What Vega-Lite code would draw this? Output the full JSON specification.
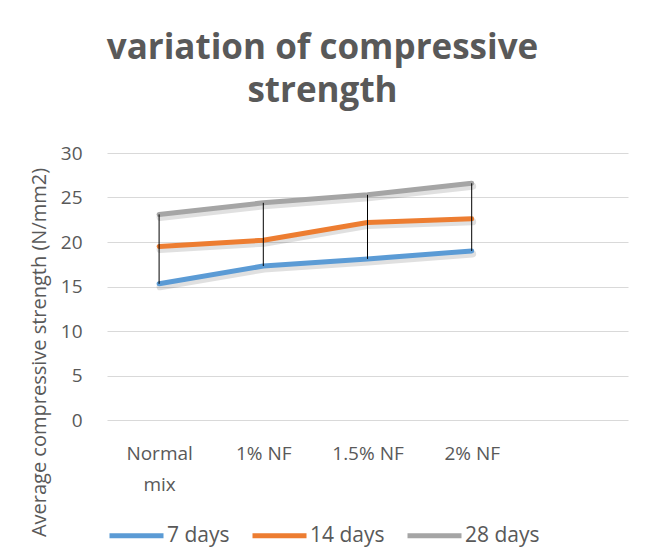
{
  "$schema": "https://vega.github.io/schema/vega-lite/v6.json",
  "width": 521,
  "height": 267,
  "autosize": {"type": "none"},
  "padding": {"left": 107, "top": 153, "right": 20, "bottom": 136},
  "background": "white",
  "config": {"view": {"stroke": null}, "font": "Open Sans"},
  "title": {
    "text": ["variation of compressive", "strength"],
    "fontSize": 35,
    "fontWeight": "bold",
    "color": "#595959",
    "font": "Open Sans",
    "anchor": "middle",
    "frame": "group",
    "dx": -45,
    "lineHeight": 43,
    "offset": 35
  },
  "data": {
    "values": [
      {"mix": "Normal mix", "days": "7 days", "value": 15.3},
      {"mix": "1%  NF", "days": "7 days", "value": 17.3},
      {"mix": "1.5%  NF", "days": "7 days", "value": 18.1},
      {"mix": "2%  NF", "days": "7 days", "value": 19.0},
      {"mix": "Normal mix", "days": "14 days", "value": 19.5},
      {"mix": "1%  NF", "days": "14 days", "value": 20.2},
      {"mix": "1.5%  NF", "days": "14 days", "value": 22.2},
      {"mix": "2%  NF", "days": "14 days", "value": 22.6},
      {"mix": "Normal mix", "days": "28 days", "value": 23.1},
      {"mix": "1%  NF", "days": "28 days", "value": 24.4},
      {"mix": "1.5%  NF", "days": "28 days", "value": 25.3},
      {"mix": "2%  NF", "days": "28 days", "value": 26.6}
    ]
  },
  "encoding": {
    "x": {
      "field": "mix",
      "type": "ordinal",
      "sort": null,
      "scale": {"type": "point", "domain": ["Normal mix", "1%  NF", "1.5%  NF", "2%  NF", " "], "padding": 0.5},
      "axis": {
        "title": null,
        "labelAngle": 0,
        "labelFontSize": 19,
        "labelColor": "#595959",
        "labelFont": "Open Sans",
        "labelPadding": 24,
        "labelLineHeight": 31,
        "labelOverlap": false,
        "ticks": false,
        "domain": false,
        "grid": false,
        "labelExpr": "datum.label == 'Normal mix' ? ['Normal', 'mix'] : datum.label"
      }
    },
    "y": {
      "field": "value",
      "type": "quantitative",
      "scale": {"domain": [0, 30]},
      "axis": {
        "title": "Average compressive  strength (N/mm2)",
        "titleFontSize": 20,
        "titleFontWeight": "normal",
        "titleColor": "#595959",
        "titleFont": "Open Sans",
        "titleX": -62,
        "titleY": 199,
        "titleAlign": "center",
        "titleBaseline": "alphabetic",
        "values": [0, 5, 10, 15, 20, 25, 30],
        "labelFontSize": 19,
        "labelColor": "#595959",
        "labelFont": "Open Sans",
        "labelPadding": 25,
        "ticks": false,
        "domain": false,
        "gridColor": "#d9d9d9",
        "gridWidth": 1
      }
    }
  },
  "layer": [
    {
      "mark": {"type": "line", "stroke": "#000000", "opacity": 0.12, "strokeWidth": 7, "yOffset": 3, "xOffset": 1, "strokeCap": "round"},
      "encoding": {"detail": {"field": "days", "type": "nominal"}}
    },
    {
      "mark": {"type": "line", "strokeWidth": 5, "strokeCap": "round", "strokeJoin": "round"},
      "encoding": {
        "color": {
          "field": "days",
          "type": "nominal",
          "scale": {"domain": ["7 days", "14 days", "28 days"], "range": ["#5b9bd5", "#ed7d31", "#a5a5a5"]},
          "legend": {
            "orient": "none",
            "legendX": 0,
            "legendY": 353,
            "direction": "horizontal",
            "title": null,
            "symbolType": "stroke",
            "symbolSize": 2916,
            "symbolStrokeWidth": 5,
            "labelFontSize": 21,
            "labelColor": "#595959",
            "labelFont": "Open Sans",
            "columnPadding": 12,
            "labelOffset": 1
          }
        }
      }
    },
    {
      "mark": {"type": "rule", "color": "#000000", "strokeWidth": 1},
      "encoding": {
        "y": {"aggregate": "min", "field": "value", "type": "quantitative"},
        "y2": {"aggregate": "max", "field": "value"}
      }
    }
  ]
}
